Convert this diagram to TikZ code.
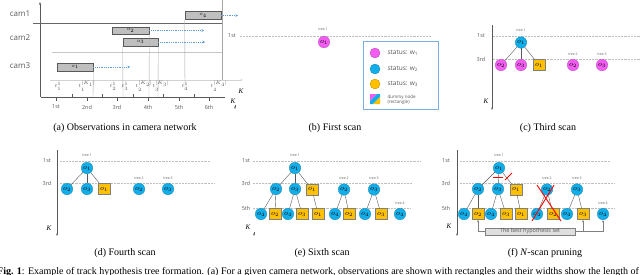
\documentclass[tikz,border=0pt]{standalone}
\usepackage{fontspec}
\setmainfont{Liberation Serif}
\setsansfont{Open Sans}
\usetikzlibrary{arrows.meta}
\definecolor{mag}{HTML}{F25CF2}
\definecolor{cya}{HTML}{12AEEA}
\definecolor{yel}{HTML}{FFC000}
\definecolor{boxg}{HTML}{BFBFBF}
\definecolor{obl}{HTML}{5B9BD5}
\definecolor{axg}{HTML}{595959}
\tikzset{
  x=1pt, y=-1pt,
  nd/.style={circle, minimum size=11.5pt, inner sep=0pt, line width=0.3pt, font=\fontsize{7}{7}\selectfont},
  wone/.style={nd, fill=mag, draw=mag!75!black},
  wtwo/.style={nd, fill=cya, draw=cya!75!black},
  wthr/.style={rectangle, minimum width=12pt, minimum height=11pt, inner sep=0pt, fill=yel, draw=gray, line width=0.4pt, font=\fontsize{7}{7}\selectfont},
  edg/.style={draw=axg, line width=0.4pt},
  lvl/.style={draw=gray!50, line width=0.45pt, densely dotted},
  tinylab/.style={font=\sffamily\fontsize{3.5}{4}\selectfont, text=axg, inner sep=0pt},
  axlab/.style={font=\sffamily\fontsize{5.5}{6}\selectfont, text=axg, inner sep=0pt},
  kaxis/.style={draw=axg, line width=0.9pt, -{Stealth[length=2.5pt]}},
  klab/.style={font=\itshape\fontsize{7}{8}\selectfont, inner sep=0pt},
  captxt/.style={font=\fontsize{10}{12}\selectfont, inner sep=0pt},
  obs/.style={rectangle, fill=boxg, draw=gray!70!black, line width=0.6pt, inner sep=0pt, font=\fontsize{5.5}{5.5}\selectfont},
  dotarr/.style={draw=obl, line width=0.8pt, densely dotted, -{Stealth[length=2.5pt,width=2.5pt]}},
  vthin/.style={draw=gray!70, line width=0.4pt},
  tlab/.style={font=\fontsize{4}{4}\selectfont, text=axg, inner sep=0pt},
}
\begin{document}
\begin{tikzpicture}
\useasboundingbox (0,0) rectangle (640,274);
% ================= (a) =================
\draw[draw=axg, line width=0.9pt, -{Stealth[length=3pt]}] (40,97) -- (40,2);
\draw[draw=gray!35, line width=0.5pt, -{Stealth[length=2.5pt]}] (50,80) -- (243,80);
\node[klab] at (241,91) {K};
\draw[draw=gray!80!black, line width=0.9pt] (33,23) -- (222,23);
\draw[draw=gray!45, line width=0.6pt] (52,52) -- (222,52);
\draw[vthin] (222,0) -- (222,80);
\node[font=\sffamily\fontsize{8}{8}\selectfont, text=axg] at (20,14) {cam1};
\node[font=\sffamily\fontsize{8}{8}\selectfont, text=axg] at (20,38) {cam2};
\node[font=\sffamily\fontsize{8}{8}\selectfont, text=axg] at (20,66) {cam3};
\node[obs, minimum width=36pt, minimum height=7.5pt] (ao4) at (203,15.5) {$o_4$};
\node[obs, minimum width=37pt, minimum height=7pt] (ao2) at (130.5,30.5) {$o_2$};
\node[obs, minimum width=35pt, minimum height=8pt] (ao3) at (140.5,42) {$o_3$};
\node[obs, minimum width=36pt, minimum height=8pt] (ao1) at (75,67) {$o_1$};
\coordinate (e4) at (238,15.5);
\coordinate (e2) at (204,30.5);
\coordinate (e3) at (205,42);
\coordinate (e1) at (130,67);
\draw[dotarr] (ao4.east) -- (e4);
\draw[dotarr] (ao2.east) -- (e2);
\draw[dotarr] (ao3.east) -- (e3);
\draw[dotarr] (ao1.east) -- (e1);
\draw[vthin] (ao1.south east) -- (93,97);
\draw[vthin] (ao3.south west) -- (123,97);
\draw[vthin] (ao2.south east) -- (149,97);
\draw[vthin] (ao3.south east) -- (158,97);
\draw[vthin] (ao4.south west) -- (185,90);
\node[tlab] at (58,86) {$t_1^1$};
\node[tlab] at (87,86) {$t_1^{|K_1|}$};
\node[tlab] at (113,86) {$t_2^1$};
\node[tlab] at (125,86) {$t_3^1$};
\node[tlab] at (144,86) {$t_2^{|K_2|}$};
\node[tlab] at (161,86) {$t_3^{|K_3|}$};
\node[tlab] at (185,86) {$t_4^1$};
\node[tlab] at (219,86) {$t_4^{|K_4|}$};
\draw[draw=axg, line width=0.9pt] (41,97) -- (225,97);
\foreach \x/\l in {56/1st,87/2nd,117/3rd,148/4th,179/5th,209/6th}{
  \draw[draw=axg, line width=0.6pt] (\x,101) -- (\x,97);
  \node[axlab] at (\x,107) {\l};
}
\foreach \x in {72,102,133,163,194}{
  \draw[draw=axg, line width=0.6pt] (\x,97) -- (\x,94);
}
\node[captxt] at (125,128) {(a) Observations in camera network};
% ================= (b) =================
\node[axlab] at (232,36) {1st};
\draw[lvl] (240,36) -- (430,36);
\node[tinylab] at (323,29.5) {tree 1};
\node[wone] (b1) at (324,42) {$o_1$};
\node[klab] at (233,101) {K};
\draw[kaxis, line width=0.5pt] (235,105) -- (235,109);
\draw[draw=obl!80, line width=0.8pt, fill=white] (363,41) rectangle (438,109);
\node[nd, minimum size=10pt, fill=mag, draw=mag!75!black] (lg1) at (375,53) {};
\node[nd, minimum size=10pt, fill=cya, draw=cya!75!black] (lg2) at (375,69) {};
\node[nd, minimum size=10pt, fill=yel, draw=yel!75!black] (lg3) at (375,84) {};
\node[anchor=west, font=\sffamily\fontsize{6.5}{7}\selectfont, text=axg] at (384,53) {status: w\textsubscript{1}};
\node[anchor=west, font=\sffamily\fontsize{6.5}{7}\selectfont, text=axg] at (384,69) {status: w\textsubscript{2}};
\node[anchor=west, font=\sffamily\fontsize{6.5}{7}\selectfont, text=axg] at (384,84) {status: w\textsubscript{3}};
\fill[mag] (370,94) -- (377,94) -- (370,101) -- cycle;
\fill[cya] (377,94) -- (380,94) -- (380,97) -- (373,104) -- (370,104) -- (370,101) -- cycle;
\fill[yel] (380,97) -- (380,104) -- (373,104) -- cycle;
\node[anchor=west, font=\sffamily\fontsize{4.5}{5}\selectfont, text=axg, align=left] at (384,99.5) {dummy node\\(rectangle)};
\node[captxt] at (335,128) {(b) First scan};
% ================= (c) =================
\draw[kaxis] (492,25) -- (492,110);
\node[axlab] at (481,36) {1st};
\node[axlab] at (481,59.5) {3rd};
\draw[lvl] (493,36) -- (640,36);
\draw[lvl] (493,59) -- (640,59);
\node[klab] at (486,101) {K};
\node[tinylab] at (521,30) {tree 1};
\node[wtwo] (c1) at (521,42.5) {$o_1$};
\node[wone] (c2) at (501,65) {$o_2$};
\node[wone] (c3) at (521,65) {$o_3$};
\node[wthr] (c1y) at (539,65) {$o_1$};
\node[tinylab] at (573,54) {tree 2};
\node[wone] (c22) at (573,65) {$o_2$};
\node[tinylab] at (602,54) {tree 3};
\node[wone] (c33) at (602,65) {$o_3$};
\draw[edg] (c1) -- (c2);
\draw[edg] (c1) -- (c3);
\draw[edg] (c1) -- (c1y);
\node[captxt] at (548,128) {(c) Third scan};
% ================= (d) =================
\draw[kaxis] (57,150) -- (57,236);
\node[axlab] at (47,161) {1st};
\node[axlab] at (47,183.5) {3rd};
\draw[lvl] (60,161) -- (210,161);
\draw[lvl] (60,183) -- (215,183);
\node[klab] at (49,228) {K};
\node[tinylab] at (87,155) {tree 1};
\node[wtwo] (d1) at (87,168) {$o_1$};
\node[wtwo] (d2) at (67,189) {$o_2$};
\node[wtwo] (d3) at (87,189) {$o_3$};
\node[wthr] (d1y) at (104,189) {$o_1$};
\node[tinylab] at (139,178) {tree 2};
\node[wtwo] (d22) at (139,189) {$o_2$};
\node[tinylab] at (168,178) {tree 3};
\node[wtwo] (d33) at (168,189) {$o_3$};
\draw[edg] (d1) -- (d2);
\draw[edg] (d1) -- (d3);
\draw[edg] (d1) -- (d1y);
\node[captxt] at (125,253) {(d) Fourth scan};
% ================= (e) =================
\node[axlab] at (246,161) {1st};
\node[axlab] at (246,183.5) {3rd};
\node[axlab] at (246,208.5) {5th};
\draw[lvl] (253,161) -- (420,161);
\draw[lvl] (253,183) -- (412,183);
\draw[lvl] (253,208) -- (410,208);
\node[klab] at (248,227) {K};
\draw[kaxis, line width=0.5pt] (254,232) -- (254,236);
\node[tinylab] at (295,155) {tree 1};
\node[wtwo] (e1) at (295,168) {$o_1$};
\node[wtwo] (e2) at (276,189) {$o_2$};
\node[wtwo] (e3) at (295,189) {$o_3$};
\node[wthr] (e1y) at (312,189.5) {$o_1$};
\node[tinylab] at (344,178) {tree 2};
\node[wtwo] (e22) at (344,189.5) {$o_2$};
\node[tinylab] at (374,178) {tree 3};
\node[wtwo] (e33) at (374,189.5) {$o_3$};
\node[wtwo] (e5a) at (261,214) {$o_4$};
\node[wthr] (e5b) at (275,214) {$o_2$};
\node[wtwo] (e5c) at (288,214) {$o_4$};
\node[wthr] (e5d) at (302,214) {$o_3$};
\node[wthr] (e5e) at (318,214) {$o_1$};
\node[wtwo] (e5f) at (335,214) {$o_4$};
\node[wthr] (e5g) at (349,214) {$o_2$};
\node[wtwo] (e5h) at (365,214) {$o_4$};
\node[wthr] (e5i) at (381,214) {$o_3$};
\node[tinylab] at (400,203) {tree 4};
\node[wtwo] (e5j) at (400,214) {$o_4$};
\draw[edg] (e1) -- (e2);
\draw[edg] (e1) -- (e3);
\draw[edg] (e1) -- (e1y);
\draw[edg] (e2) -- (e5a);
\draw[edg] (e2) -- (e5b);
\draw[edg] (e3) -- (e5c);
\draw[edg] (e3) -- (e5d);
\draw[edg] (e1y) -- (e5e);
\draw[edg] (e22) -- (e5f);
\draw[edg] (e22) -- (e5g);
\draw[edg] (e33) -- (e5h);
\draw[edg] (e33) -- (e5i);
\node[captxt] at (322,253) {(e) Sixth scan};
% ================= (f) =================
\draw[kaxis] (457,150) -- (457,236);
\node[axlab] at (446,161) {1st};
\node[axlab] at (446,183.5) {3rd};
\node[axlab] at (446,208.5) {5th};
\draw[lvl] (460,161) -- (610,161);
\draw[lvl] (460,183) -- (615,183);
\draw[lvl] (460,208) -- (615,208);
\node[klab] at (449,226) {K};
\node[tinylab] at (499,155) {tree 1};
\node[wtwo] (f1) at (499,168) {$o_1$};
\node[wtwo] (f2) at (478,189) {$o_2$};
\node[wtwo] (f3) at (498,189) {$o_3$};
\node[wthr] (f1y) at (516,189.5) {$o_1$};
\node[tinylab] at (547,178) {tree 2};
\node[wtwo] (f22) at (547,189.5) {$o_2$};
\node[tinylab] at (577,178) {tree 3};
\node[wtwo] (f33) at (577,189.5) {$o_3$};
\node[wtwo] (f5a) at (464,214) {$o_4$};
\node[wthr] (f5b) at (478,214) {$o_2$};
\node[wtwo] (f5c) at (491,214) {$o_4$};
\node[wthr] (f5d) at (506,214) {$o_3$};
\node[wthr] (f5e) at (521,214) {$o_1$};
\node[wtwo] (f5f) at (537,214) {$o_4$};
\node[wthr] (f5g) at (553,214) {$o_2$};
\node[wtwo] (f5h) at (567,214) {$o_4$};
\node[wthr] (f5i) at (583,214) {$o_3$};
\node[tinylab] at (603,203) {tree 4};
\node[wtwo] (f5j) at (603,214) {$o_4$};
\draw[edg] (f1) -- (f2);
\draw[edg] (f1) -- (f3);
\draw[edg] (f1) -- (f1y);
\draw[edg] (f2) -- (f5a);
\draw[edg] (f2) -- (f5b);
\draw[edg] (f3) -- (f5c);
\draw[edg] (f3) -- (f5d);
\draw[edg] (f1y) -- (f5e);
\draw[edg] (f22) -- (f5f);
\draw[edg] (f22) -- (f5g);
\draw[edg] (f33) -- (f5h);
\draw[edg] (f33) -- (f5i);
\draw[red, line width=1pt] (493,177.5) -- (503,177.5);
\draw[red, line width=0.8pt] (505,180) -- (512,173);
\draw[red, line width=0.9pt] (537,185) -- (561,221);
\draw[red, line width=0.9pt] (554,185) -- (532,221);
\node[rectangle, fill=gray!25, draw=gray, line width=0.5pt, minimum width=90pt, minimum height=7.5pt, inner sep=0pt, font=\sffamily\fontsize{5.5}{6}\selectfont, text=axg] (bh) at (530,231.5) {The best hypothesis set};
\draw[draw=gray, line width=0.5pt, -{Stealth[length=2.5pt]}] (bh.west) -| (f5b.south);
\draw[draw=gray, line width=0.5pt, -{Stealth[length=2.5pt]}] (bh.east) -| (f5i.south);
\draw[draw=gray, line width=0.5pt, -{Stealth[length=2.5pt]}] (bh.east) -| (f5j.south);
\node[captxt] at (545,253) {(f) \textit{N}-scan pruning};
% ================= figure caption =================
\node[anchor=base west, inner sep=0pt, font=\fontsize{10}{12}\selectfont] at (-3,274.6) {\textbf{Fig. 1}: Example of track hypothesis tree formation. (a) For a given camera network, observations are shown with rectangles and their widths show the length of the};
\end{tikzpicture}
\end{document}
